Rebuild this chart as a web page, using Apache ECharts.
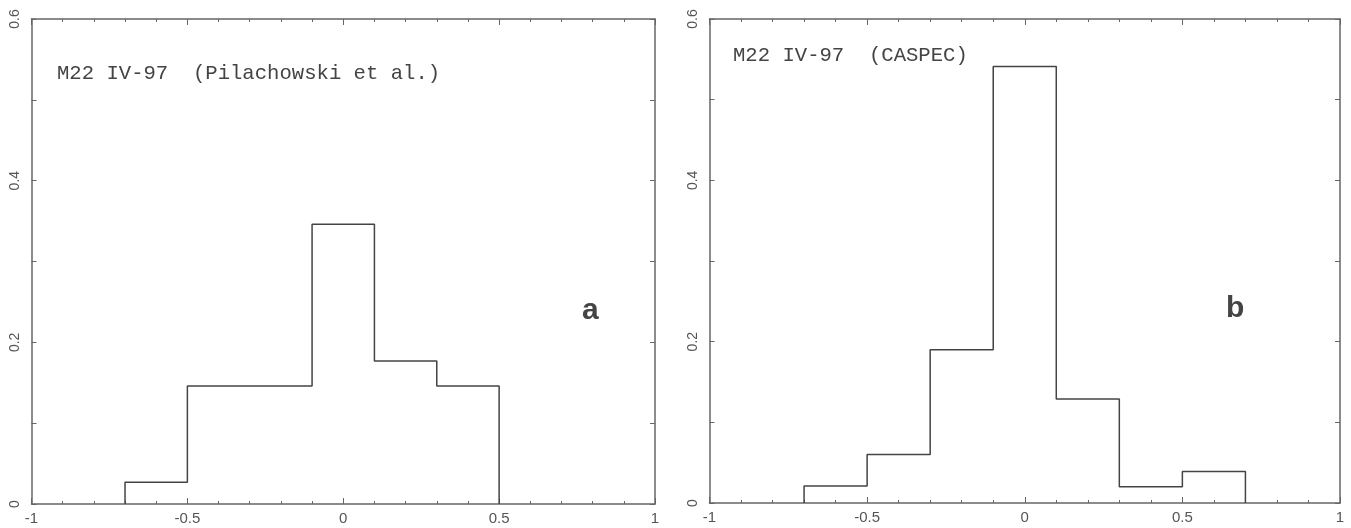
<!DOCTYPE html>
<html>
<head>
<meta charset="utf-8">
<script src="https://cdn.jsdelivr.net/npm/echarts@6/dist/echarts.min.js"></script>
<style>
html,body{margin:0;padding:0;background:#fff;}
#chart{width:1351px;height:528px;}
</style>
</head>
<body>
<div id="chart"></div>
<script>
// ---- data ----
var binEdgesA = [-0.7, -0.5, -0.3, -0.1, 0.1, 0.3, 0.5];
var valuesA   = [0.027, 0.146, 0.146, 0.346, 0.177, 0.146];
var binEdgesB = [-0.7, -0.5, -0.3, -0.1, 0.1, 0.3, 0.5, 0.7];
var valuesB   = [0.021, 0.060, 0.190, 0.541, 0.129, 0.020, 0.039];
var titleA = 'M22 IV-97  (Pilachowski et al.)';
var titleB = 'M22 IV-97  (CASPEC)';
var panelA = 'a';
var panelB = 'b';
var xTickLabels = ['-1', '-0.5', '0', '0.5', '1'];

function stepPoints(edges, vals) {
  var pts = [[edges[0], 0]];
  for (var i = 0; i < vals.length; i++) {
    pts.push([edges[i], vals[i]]);
    pts.push([edges[i + 1], vals[i]]);
  }
  pts.push([edges[edges.length - 1], 0]);
  return pts;
}

var frameColor = '#666';
var lineColor = '#444';
var labelStyle = {color: '#555', fontFamily: 'Liberation Sans', fontSize: 15};

function xAx(gi, pos, show) {
  return {
    type: 'value', gridIndex: gi, position: pos, min: -1, max: 1, interval: 0.5,
    axisLine: {show: true, onZero: false, lineStyle: {color: frameColor, width: 1.5}},
    axisTick: {show: true, inside: true, length: 6, lineStyle: {color: frameColor}},
    minorTick: {show: true, splitNumber: 5, length: 3, lineStyle: {color: frameColor}},
    splitLine: {show: false},
    axisLabel: show ? Object.assign({show: true, margin: 7,
      formatter: function (v) { var i = Math.round((v + 1) / 0.5); return xTickLabels[i]; }}, labelStyle) : {show: false}
  };
}
function yAx(gi, pos, show) {
  return {
    type: 'value', gridIndex: gi, position: pos, min: 0, max: 0.6, interval: 0.2,
    axisLine: {show: true, onZero: false, lineStyle: {color: frameColor, width: 1.5}},
    axisTick: {show: true, inside: true, length: 5, lineStyle: {color: frameColor}},
    minorTick: {show: true, splitNumber: 2, length: 5, lineStyle: {color: frameColor}},
    splitLine: {show: false},
    axisLabel: show ? Object.assign({show: true, rotate: 90, margin: 9,
      formatter: function (v) { return v === 0 ? '0' : String(+v.toFixed(1)); }}, labelStyle, {fontSize: 14}) : {show: false}
  };
}

var chart = echarts.init(document.getElementById('chart'));
chart.setOption({
  animation: false,
  backgroundColor: '#fff',
  grid: [
    {left: 31.5, right: 696, top: 19, bottom: 24},
    {left: 709.5, right: 11, top: 19, bottom: 25}
  ],
  xAxis: [xAx(0, 'bottom', true), xAx(0, 'top', false), xAx(1, 'bottom', true), xAx(1, 'top', false)],
  yAxis: [yAx(0, 'left', true), yAx(0, 'right', false), yAx(1, 'left', true), yAx(1, 'right', false)],
  graphic: [
    {type: 'text', left: 57, top: 63, style: {text: titleA, font: '20.6px "Liberation Mono"', fill: '#444'}},
    {type: 'text', left: 733, top: 45, style: {text: titleB, font: '20.6px "Liberation Mono"', fill: '#444'}},
    {type: 'text', left: 582, top: 296, style: {text: panelA, font: 'bold 30px "Liberation Sans"', fill: '#444'}},
    {type: 'text', left: 1226, top: 294, style: {text: panelB, font: 'bold 30px "Liberation Sans"', fill: '#444'}}
  ],
  series: [
    {type: 'line', xAxisIndex: 0, yAxisIndex: 0, data: stepPoints(binEdgesA, valuesA),
      showSymbol: false, symbol: 'none', lineStyle: {color: lineColor, width: 1.5}},
    {type: 'line', xAxisIndex: 2, yAxisIndex: 2, data: stepPoints(binEdgesB, valuesB),
      showSymbol: false, symbol: 'none', lineStyle: {color: lineColor, width: 1.5}}
  ]
});
</script>
</body>
</html>
